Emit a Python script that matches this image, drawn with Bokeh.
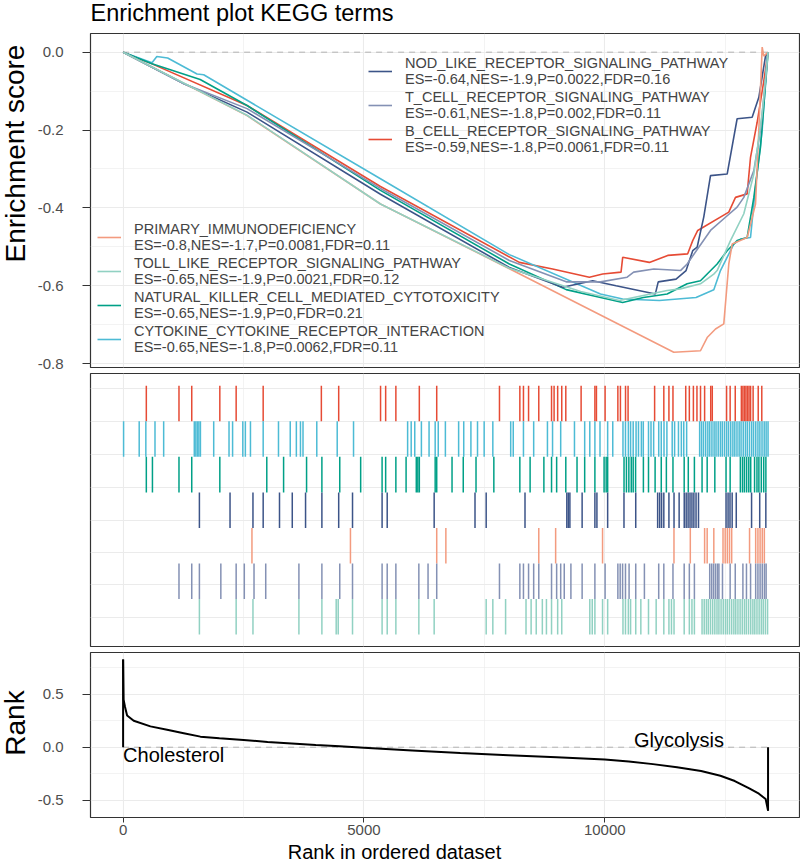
from bokeh.plotting import figure
from bokeh.layouts import column, row
from bokeh.models import Range1d, FixedTicker, PrintfTickFormatter, Legend, LegendItem
from bokeh.embed import file_html
from bokeh.resources import INLINE
from bokeh.core.properties import value

FONT = "Liberation Sans"
N_GENES = 13390

# ---------------- data ----------------
set_names = ["B_CELL_RECEPTOR_SIGNALING_PATHWAY",
             "CYTOKINE_CYTOKINE_RECEPTOR_INTERACTION",
             "NATURAL_KILLER_CELL_MEDIATED_CYTOTOXICITY",
             "NOD_LIKE_RECEPTOR_SIGNALING_PATHWAY",
             "PRIMARY_IMMUNODEFICIENCY",
             "T_CELL_RECEPTOR_SIGNALING_PATHWAY",
             "TOLL_LIKE_RECEPTOR_SIGNALING_PATHWAY"]
set_stats = ["ES=-0.59,NES=-1.8,P=0.0061,FDR=0.11",
             "ES=-0.65,NES=-1.8,P=0.0062,FDR=0.11",
             "ES=-0.65,NES=-1.9,P=0,FDR=0.21",
             "ES=-0.64,NES=-1.9,P=0.0022,FDR=0.16",
             "ES=-0.8,NES=-1.7,P=0.0081,FDR=0.11",
             "ES=-0.61,NES=-1.8,P=0.002,FDR=0.11",
             "ES=-0.65,NES=-1.9,P=0.0021,FDR=0.12"]
set_colors = ["#E64B35", "#4DBBD5", "#00A087", "#3C5488", "#F39B7F", "#8491B4", "#91D1C2"]

es_x_bcell = [0, 600, 2573, 5343, 8226, 8918, 9680, 9957, 10338, 10372, 10926, 11307, 11722, 11826, 11930, 12575, 12714, 12956, 13026, 13164, 13303, 13390]
es_y_bcell = [0, -0.03, -0.137, -0.345, -0.54, -0.557, -0.578, -0.57, -0.565, -0.527, -0.54, -0.522, -0.518, -0.484, -0.458, -0.411, -0.373, -0.364, -0.27, -0.18, -0.073, 0]
es_x_cytokine = [0, 600, 700, 925, 1535, 1673, 5343, 8019, 9911, 10372, 11133, 11895, 12264, 12402, 12679, 12818, 13026, 13130, 13268, 13372, 13390]
es_y_cytokine = [0, -0.027, -0.011, -0.015, -0.056, -0.058, -0.325, -0.52, -0.621, -0.634, -0.638, -0.63, -0.61, -0.561, -0.493, -0.48, -0.476, -0.347, -0.2, -0.013, 0]
es_x_nk = [0, 600, 1600, 2573, 5343, 8019, 9200, 10372, 10800, 11295, 11710, 11987, 12333, 12541, 12748, 12956, 13095, 13233, 13372, 13390]
es_y_nk = [0, -0.03, -0.07, -0.137, -0.355, -0.544, -0.61, -0.643, -0.63, -0.621, -0.595, -0.587, -0.544, -0.51, -0.484, -0.476, -0.373, -0.244, -0.03, 0]
es_x_nod = [0, 1263, 2573, 5343, 8019, 9126, 9749, 10234, 11050, 11110, 11480, 11688, 11826, 11918, 12056, 12195, 12541, 12748, 13060, 13199, 13337, 13390]
es_y_nod = [0, -0.081, -0.154, -0.365, -0.553, -0.604, -0.587, -0.6, -0.621, -0.59, -0.583, -0.561, -0.51, -0.501, -0.423, -0.317, -0.313, -0.171, -0.167, -0.116, -0.01, 0]
es_x_primary = [0, 2573, 5343, 8000, 11433, 11987, 12126, 12299, 12471, 12575, 12645, 12957, 13130, 13198, 13268, 13302, 13390]
es_y_primary = [0, -0.163, -0.39, -0.555, -0.771, -0.767, -0.733, -0.711, -0.698, -0.544, -0.493, -0.476, -0.39, -0.201, 0.013, -0.01, 0]
es_x_tcell = [0, 1263, 2573, 5343, 8019, 9200, 9911, 10465, 10600, 11018, 11572, 11710, 12195, 12506, 12748, 12887, 13095, 13233, 13337, 13390]
es_y_tcell = [0, -0.081, -0.145, -0.35, -0.535, -0.59, -0.59, -0.578, -0.565, -0.557, -0.561, -0.544, -0.458, -0.424, -0.398, -0.373, -0.304, -0.2, -0.073, 0]
es_x_toll = [0, 2573, 5343, 8019, 9500, 10303, 11295, 11571, 11987, 12263, 12333, 12610, 12887, 13095, 13268, 13390]
es_y_toll = [0, -0.162, -0.39, -0.555, -0.615, -0.638, -0.612, -0.608, -0.595, -0.57, -0.561, -0.484, -0.415, -0.313, -0.158, 0]

hits_bcell = [482, 1160, 1425, 2008, 2347, 2908, 4116, 4476, 5345, 5451, 5663, 6150, 6511, 7814, 8237, 8312, 8418, 8630, 8895, 8948, 9022, 9107, 9191, 9509, 9795, 9827, 10007, 10272, 10325, 10431, 10484, 11035, 11226, 11332, 11416, 11681, 11756, 11840, 11914, 11988, 12073, 12200, 12232, 12529, 12603, 12709, 12836, 12868, 12900, 12931, 12963, 12995, 13027, 13080, 13186, 13260]
hits_cytokine = [10, 334, 472, 662, 842, 1478, 1510, 1542, 1573, 1605, 1881, 2199, 2273, 2485, 2538, 2644, 2908, 3226, 3470, 3597, 3682, 3735, 4021, 4445, 4784, 5907, 5981, 6055, 6193, 6352, 6479, 6543, 6691, 6966, 7072, 7221, 7358, 7496, 7676, 8047, 8100, 8312, 8524, 8810, 8916, 9085, 9371, 9583, 9689, 9795, 9901, 10060, 10166, 10378, 10430, 10490, 10536, 10590, 10650, 10700, 10760, 10800, 10908, 10960, 11015, 11120, 11173, 11230, 11290, 11400, 11450, 11530, 11590, 11640, 11700, 11970, 12010, 12050, 12095, 12140, 12180, 12225, 12270, 12310, 12355, 12400, 12440, 12485, 12530, 12570, 12615, 12660, 12700, 12745, 12790, 12830, 12875, 12920, 12960, 13005, 13050, 13090, 13135, 13180, 13220, 13265, 13310, 13350, 13390]
hits_nk = [482, 609, 1160, 1425, 2008, 2983, 3332, 3809, 4127, 4498, 4932, 5377, 5451, 5663, 5875, 6087, 6119, 6150, 6479, 6511, 6829, 7062, 7327, 7697, 8237, 8450, 8736, 8895, 9001, 9191, 9424, 9583, 9795, 9986, 10029, 10060, 10400, 10450, 10500, 10550, 10590, 10640, 10802, 10908, 11045, 11173, 11279, 11416, 11649, 11734, 11861, 12020, 12126, 12285, 12518, 12603, 12815, 12860, 12900, 12945, 12990, 13030, 13110, 13160, 13200, 13250, 13300, 13345]
hits_nod = [1584, 2220, 2696, 2908, 3247, 3512, 3788, 4127, 4476, 4763, 5377, 5483, 6458, 7306, 7538, 8344, 9212, 9244, 9276, 9530, 9795, 9837, 10060, 10399, 10643, 11098, 11140, 11180, 11226, 11332, 11438, 11544, 11650, 11690, 11730, 11770, 11810, 11850, 11895, 11946, 12518, 12560, 12600, 12645, 12730, 13048, 13217, 13344]
hits_primary = [2675, 4720, 6511, 6701, 8630, 8980, 9954, 11437, 11776, 12073, 12126, 12264, 12455, 12500, 12545, 12590, 12635, 13006, 13133, 13180, 13225, 13270, 13313]
hits_tcell = [1160, 1425, 1584, 2029, 2347, 2516, 2718, 2961, 3650, 4127, 4498, 4763, 5377, 5483, 5663, 6140, 6331, 6511, 7814, 8237, 8312, 8418, 8524, 8630, 8895, 9001, 9085, 9159, 9297, 9530, 9795, 10007, 10272, 10320, 10370, 10430, 10505, 10643, 10823, 11120, 11226, 11416, 11649, 11756, 11861, 12179, 12220, 12260, 12300, 12340, 12370, 12444, 12603, 12709, 12868, 12942, 13027, 13133, 13180, 13225, 13270, 13315, 13350]
hits_toll = [1584, 2347, 2696, 3650, 4127, 4424, 4466, 4763, 5377, 5483, 5663, 6140, 6458, 7538, 7676, 7941, 8365, 8471, 8577, 8704, 8789, 8895, 9022, 9107, 9689, 9740, 9795, 9954, 10060, 10378, 10430, 10490, 10536, 10643, 10749, 10908, 11067, 11226, 11332, 11385, 11438, 11649, 11756, 11810, 11861, 12020, 12065, 12110, 12150, 12195, 12240, 12285, 12330, 12370, 12415, 12460, 12505, 12545, 12590, 12635, 12680, 12720, 12765, 12810, 12855, 12900, 12940, 12985, 13030, 13075, 13115, 13160, 13205, 13250, 13290, 13335, 13380]

rank_x = [0, 10, 40, 83, 220, 567, 913, 1259, 1605, 2000, 2500, 3000, 3500, 4000, 4500, 5000, 6000, 7000, 8000, 9000, 10000, 10500, 11000, 11500, 12000, 12400, 12700, 13000, 13200, 13340, 13390]
rank_y = [0.83, 0.45, 0.38, 0.30, 0.25, 0.197, 0.165, 0.133, 0.10, 0.085, 0.068, 0.05, 0.035, 0.02, 0.008, -0.004, -0.03, -0.055, -0.075, -0.095, -0.117, -0.135, -0.16, -0.19, -0.225, -0.27, -0.32, -0.39, -0.44, -0.49, -0.60]

x_major = [0, 5000, 10000]
x_minor = [2500, 7500, 12500]
es_major = [0, -0.2, -0.4, -0.6, -0.8]
es_minor = [-0.1, -0.3, -0.5, -0.7]
rank_major = [-0.5, 0, 0.5]
rank_minor = [-0.25, 0.25, 0.75]
hit_grid = [0.486, 1.406, 2.31, 3.22, 4.14, 5.08, 5.997, 6.936]

es_x = [es_x_bcell, es_x_cytokine, es_x_nk, es_x_nod, es_x_primary, es_x_tcell, es_x_toll]
es_y = [es_y_bcell, es_y_cytokine, es_y_nk, es_y_nod, es_y_primary, es_y_tcell, es_y_toll]
hits = [hits_bcell, hits_cytokine, hits_nk, hits_nod, hits_primary, hits_tcell, hits_toll]

# ---------------- styling helpers ----------------
GRID = "#EBEBEB"
FRAME = "#333333"
LEFT_STRIP = 30
LEFT, RIGHT, FW = 60, 1, 709
xr = Range1d(-677, 14043)


def base_fig(fh, top, bottom, yr):
    p = figure(frame_width=FW, frame_height=fh, x_range=xr, y_range=yr,
               min_border_left=LEFT, min_border_right=RIGHT,
               min_border_top=top, min_border_bottom=bottom,
               output_backend="svg", toolbar_location=None, tools="")
    p.outline_line_color = FRAME
    p.outline_line_width = 1.2
    p.background_fill_color = "white"
    p.border_fill_color = "white"
    p.xgrid.ticker = FixedTicker(ticks=x_major, minor_ticks=x_minor)
    for g in (p.xgrid, p.ygrid):
        g.grid_line_color = GRID
        g.grid_line_width = 1.1
        g.minor_grid_line_color = GRID
        g.minor_grid_line_width = 0.6
    for ax in (p.xaxis, p.yaxis):
        ax.axis_line_color = None
        ax.minor_tick_line_color = None
        ax.major_tick_line_color = FRAME
        ax.major_tick_in = 0
        ax.major_label_text_font = FONT
        ax.major_label_text_font_size = "15px"
        ax.major_label_text_color = "#4D4D4D"
    return p


def text_fig(w, h):
    p = figure(width=w, height=h, x_range=Range1d(0, w), y_range=Range1d(0, h),
               min_border=0, x_axis_location=None, y_axis_location=None,
               output_backend="svg", toolbar_location=None, tools="")
    p.outline_line_color = None
    p.grid.visible = False
    p.background_fill_color = "white"
    p.border_fill_color = "white"
    return p


def put_text(p, x, y, txt, size, angle=0.0, align="left"):
    p.text(x=[x], y=[y], text=[txt], text_font=value(FONT), text_font_size=value(f"{size}px"),
           text_align=align, text_baseline="alphabetic", angle=angle, text_color="black")


# ---------------- top: running enrichment score ----------------
p1 = base_fig(334, 1, 5, Range1d(-0.81, 0.048))
p1.xaxis.visible = False
p1.yaxis.ticker = FixedTicker(ticks=es_major, minor_ticks=es_minor)
p1.yaxis.formatter = PrintfTickFormatter(format="%.1f")
p1.yaxis.major_tick_out = 8
p1.yaxis.major_label_standoff = 19
p1.line([0, N_GENES], [0, 0], line_color="#B3B3B3", line_dash="6 5", line_width=1)

renderers = []
for i in range(7):
    r = p1.line(es_x[i], es_y[i], line_color=set_colors[i], line_width=1.6)
    renderers.append(r)

leg_kw = dict(glyph_width=24, glyph_height=16, label_standoff=13, padding=0, margin=0,
              spacing=2, border_line_color=None, background_fill_alpha=0,
              label_text_font=FONT, label_text_font_size="14.5px",
              label_text_line_height=1.15)
items1 = [LegendItem(label=set_names[i] + "\n" + set_stats[i], renderers=[renderers[i]]) for i in (3, 5, 0)]
items2 = [LegendItem(label=set_names[i] + "\n" + set_stats[i], renderers=[renderers[i]]) for i in (4, 6, 2, 1)]
p1.add_layout(Legend(items=items1, location=(278, 212), **leg_kw))
p1.add_layout(Legend(items=items2, location=(7, 12), **leg_kw))

# ---------------- middle: hit positions ----------------
p2 = base_fig(273, 1, 3, Range1d(-0.337, 7.346))
p2.xaxis.visible = False
p2.yaxis.visible = False
p2.ygrid.ticker = FixedTicker(ticks=hit_grid)
for i in range(7):
    n = len(hits[i])
    p2.segment(x0=hits[i], y0=[6 - i] * n, x1=hits[i], y1=[7 - i] * n,
               line_color=set_colors[i], line_width=1.5)

# ---------------- bottom: ranked list ----------------
p3 = base_fig(165, 3, 24, Range1d(-0.665, 0.896))
p3.xaxis.ticker = FixedTicker(ticks=x_major, minor_ticks=x_minor)
p3.xaxis.formatter = PrintfTickFormatter(format="%d")
p3.xaxis.major_tick_out = 5
p3.xaxis.major_label_standoff = 2
p3.yaxis.ticker = FixedTicker(ticks=rank_major, minor_ticks=rank_minor)
p3.yaxis.formatter = PrintfTickFormatter(format="%.1f")
p3.yaxis.major_tick_out = 8
p3.yaxis.major_label_standoff = 19
p3.line([rank_x[0], rank_x[-1]], [0, 0], line_color="#B3B3B3", line_dash="6 5", line_width=1)
p3.line(rank_x, rank_y, line_color="black", line_width=2)
p3.segment(x0=[rank_x[0], rank_x[-1]], y0=[0, 0], x1=[rank_x[0], rank_x[-1]],
           y1=[rank_y[0], rank_y[-1]], line_color="black", line_width=2)
p3.text(x=[rank_x[0]], y=[0], text=["Cholesterol"], text_font=value(FONT),
        text_font_size=value("20px"), text_align="left", text_baseline="alphabetic",
        y_offset=8)
p3.text(x=[rank_x[-1]], y=[0], text=["Glycolysis"], text_font=value(FONT),
        text_font_size=value("20px"), text_align="right", text_baseline="alphabetic",
        x_offset=-44, y_offset=-7)

# ---------------- title / axis-title strips ----------------
H1, H2, H3 = 340, 277, 192
HL = H1 + H2 + H3
top_strip = text_fig(800, 32)
put_text(top_strip, 90, 20, "Enrichment plot KEGG terms", 23.5)

left_strip = text_fig(LEFT_STRIP, HL)
put_text(left_strip, 14.5, HL - (153 - 32), "Enrichment score", 28, angle=1.5708, align="center")
put_text(left_strip, 14.5, HL - (722.5 - 32), "Rank", 28, angle=1.5708, align="center")

bottom_strip = text_fig(800, 20)
put_text(bottom_strip, 394, 10, "Rank in ordered dataset", 20, align="center")

layout = column(top_strip, row(left_strip, column(p1, p2, p3, spacing=0), spacing=0),
                bottom_strip, spacing=0)
open("out.html", "w").write(file_html(layout, INLINE))
